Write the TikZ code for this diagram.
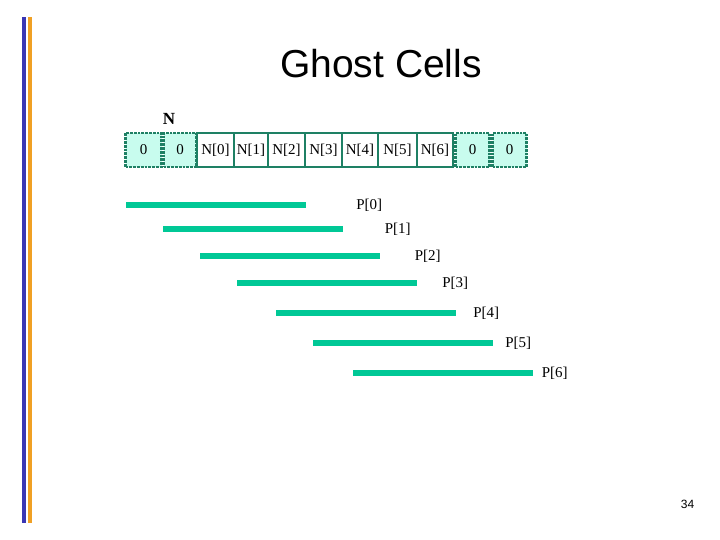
\documentclass[tikz,border=0pt]{standalone}
\usepackage{fontspec}
\setmainfont{Liberation Serif}
\newfontfamily\slidefont{Liberation Sans}
\usepackage{tikz}
\usetikzlibrary{
    positioning,
    calc
}
\definecolor{cellgreen}{HTML}{1E8064}
\definecolor{ghostfill}{HTML}{C8FCEE}
\definecolor{barteal}{HTML}{00C896}
\definecolor{railblue}{HTML}{3A36B4}
\definecolor{railorange}{HTML}{F0A024}
\tikzset{
    % --- Ghost cell (padding, dotted border) ---
    ghost cell/.style = {
        rectangle, draw=cellgreen, densely dotted, line width=2.8pt,
        fill=ghostfill, minimum height=34pt, inner sep=0pt,
        font=\fontsize{15}{17}\selectfont
    },
    % --- Real data cell ---
    data cell/.style = {
        rectangle, draw=cellgreen, line width=2.8pt,
        fill=white, minimum height=34pt, inner sep=0pt,
        font=\fontsize{15}{17}\selectfont
    },
    % --- Processor range bar ---
    range bar/.style = {
        rectangle, fill=barteal, minimum width=180pt,
        minimum height=6pt, inner sep=0pt
    },
    % --- Processor label ---
    proc label/.style = {
        font=\fontsize{15}{17}\selectfont, inner sep=0pt
    },
    % --- Slide title ---
    title/.style = {
        font=\slidefont\fontsize{39}{42}\selectfont
    }
}

\begin{document}
\begin{tikzpicture}[x=1pt, y=-1pt]

\useasboundingbox (0,0) rectangle (720,540);

% ---------------------------------------------------------
% Slide decoration
% ---------------------------------------------------------
\fill[railblue] (22,17) rectangle (26,523);
\fill[railorange] (28,17) rectangle (32,523);

\node[title] (Title) at (381,64) {Ghost Cells};

% ---------------------------------------------------------
% Array with ghost cells
% ---------------------------------------------------------
\node[font=\bfseries\fontsize{17}{19}\selectfont] (ArrName) at (169,119) {N};

\node[ghost cell, minimum width=36pt] (G0) at (143.5,150) {0};
\node[ghost cell, minimum width=33pt] (G1) at (180,150) {0};
\node[data cell, minimum width=37pt] (N0) at (215.5,150) {N[0]};
\node[data cell, minimum width=34pt] (N1) at (251,150) {N[1]};
\node[data cell, minimum width=37pt] (N2) at (286.5,150) {N[2]};
\node[data cell, minimum width=37pt] (N3) at (323.5,150) {N[3]};
\node[data cell, minimum width=36pt] (N4) at (360,150) {N[4]};
\node[data cell, minimum width=39pt] (N5) at (397.5,150) {N[5]};
\node[data cell, minimum width=36pt] (N6) at (435,150) {N[6]};
\node[ghost cell, minimum width=34pt] (G2) at (472.5,150) {0};
\node[ghost cell, minimum width=34pt] (G3) at (509.5,150) {0};

% ---------------------------------------------------------
% Processor ranges
% ---------------------------------------------------------
\node[range bar] (B0) at (216,205) {};
\node[proc label, right=50pt of B0] (P0) {P[0]};

\node[range bar] (B1) at (252.5,229) {};
\node[proc label, right=42pt of B1] (P1) {P[1]};

\node[range bar] (B2) at (289.5,256) {};
\node[proc label, right=35pt of B2] (P2) {P[2]};

\node[range bar] (B3) at (327,283) {};
\node[proc label, right=25pt of B3] (P3) {P[3]};

\node[range bar] (B4) at (366,313) {};
\node[proc label, right=17pt of B4] (P4) {P[4]};

\node[range bar] (B5) at (403,343) {};
\node[proc label, right=12pt of B5] (P5) {P[5]};

\node[range bar] (B6) at (442.5,373) {};
\node[proc label, right=9pt of B6] (P6) {P[6]};

% page number
\node[font=\slidefont\fontsize{12}{14}\selectfont] (PageNo) at (687.5,504) {34};

\end{tikzpicture}
\end{document}
